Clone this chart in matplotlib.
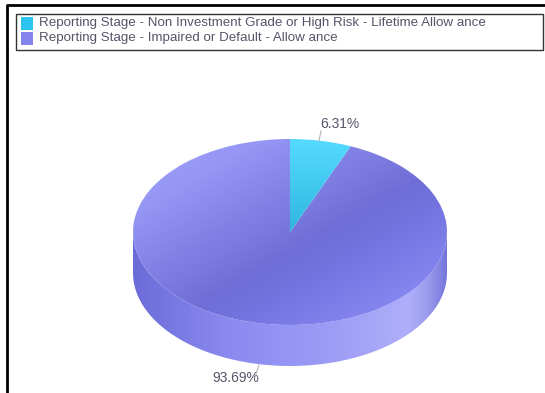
import numpy as np
import matplotlib
matplotlib.use("Agg")
import matplotlib.pyplot as plt
from matplotlib.patches import Wedge, Rectangle, PathPatch
from matplotlib.path import Path
from matplotlib.colors import LinearSegmentedColormap
from matplotlib.transforms import Affine2D

labels = ["Reporting Stage - Non Investment Grade or High Risk - Lifetime Allow ance",
          "Reporting Stage - Impaired or Default - Allow ance"]
shares = [6.31, 93.69]
value_labels = ["6.31%", "93.69%"]

plt.rcParams['font.family'] = ['Liberation Sans', 'DejaVu Sans']
TEXT = "#55556a"
W, H = 545, 393
CX, CY, RX, RY, DEPTH = 290, 232, 157, 93, 41

fig = plt.figure(figsize=(W/100, H/100), dpi=100)
ax = fig.add_axes([0, 0, 1, 1])
ax.set_xlim(0, W); ax.set_ylim(H, 0); ax.axis("off")

cmap_top = LinearSegmentedColormap.from_list("t", [(0, "#a0a0f8"), (0.2, "#9696f5"), (0.56, "#6e6ed6"), (0.66, "#7474e0"), (0.85, "#8585f0"), (1, "#8888f2")])
cmap_cyan = LinearSegmentedColormap.from_list("c", ["#55dbff", "#2fb6e0"])
cmap_side = LinearSegmentedColormap.from_list("s", [(0, "#6c6cd8"), (0.3, "#8a8af0"), (0.62, "#9c9cf6"), (0.88, "#aeaefa"), (0.94, "#9c9cee"), (1, "#7676dc")])

def ellipse_tf(cy):
    return Affine2D().scale(RX, -RY).translate(CX, cy) + ax.transData

angles = 90 - 360*np.cumsum([0]+shares)/sum(shares)

# side wall
th = np.linspace(np.pi, 2*np.pi, 200)
xs = CX + RX*np.cos(th)
upper = CY - RY*np.sin(th)
verts = np.r_[np.c_[xs, upper + DEPTH], np.c_[xs[::-1], upper[::-1]]]
side_clip = PathPatch(Path(np.r_[verts, verts[:1]]), transform=ax.transData, fc="none", ec="none")
ax.add_patch(side_clip)
g = np.linspace(0, 1, 256).reshape(1, -1)
im = ax.imshow(g, cmap=cmap_side, extent=[CX-RX, CX+RX, CY+RY+DEPTH, CY], aspect="auto", zorder=1)
im.set_clip_path(side_clip)

# top face: diagonal gradient
yy, xx = np.mgrid[0:1:300j, 0:1:300j]
diag = (0.97*xx + yy) / 1.97
big = Wedge((0, 0), 1, angles[2], angles[1], transform=ellipse_tf(CY), fc="none", ec="none")
ax.add_patch(big)
im2 = ax.imshow(diag, cmap=cmap_top, vmin=0, vmax=1, extent=[CX-RX, CX+RX, CY+RY, CY-RY], aspect="auto", zorder=2)
im2.set_clip_path(big)

small = Wedge((0, 0), 1, angles[1], angles[0], transform=ellipse_tf(CY), fc="none", ec="none")
ax.add_patch(small)
im3 = ax.imshow(yy[:, :1], cmap=cmap_cyan, extent=[CX-10, CX+70, CY, CY-RY], aspect="auto", zorder=3)
im3.set_clip_path(small)
ax.set_xlim(0, W); ax.set_ylim(H, 0)

# frame
ax.plot([6.7, 6.7, 545], [H, 5.3, 5.3], color="black", lw=2, solid_capstyle="butt", zorder=5)

# legend
ax.add_patch(Rectangle((16, 14), 527, 35.5, fc="white", ec="#333333", lw=1, zorder=5))
for i, (lab, c) in enumerate(zip(labels, ["#2cc4ee", "#8484ec"])):
    y = 23.5 + 15*i
    ax.add_patch(Rectangle((21, y-6.5), 12, 13, fc=c, ec="none", zorder=6))
    ax.text(39, y-0.5, lab, fontsize=9.65, color=TEXT, va="center", ha="left", zorder=6)

# value labels
ax.plot([321, 319], [131, 141], color="#b5b5b5", lw=0.8, zorder=4)
ax.text(340, 124, value_labels[0], fontsize=10, color=TEXT, ha="center", va="center")
ax.plot([259, 256], [365, 374], color="#b5b5b5", lw=0.8, zorder=4)
ax.text(236, 378, value_labels[1], fontsize=10, color=TEXT, ha="center", va="center")

fig.savefig("out.png", dpi=100)
